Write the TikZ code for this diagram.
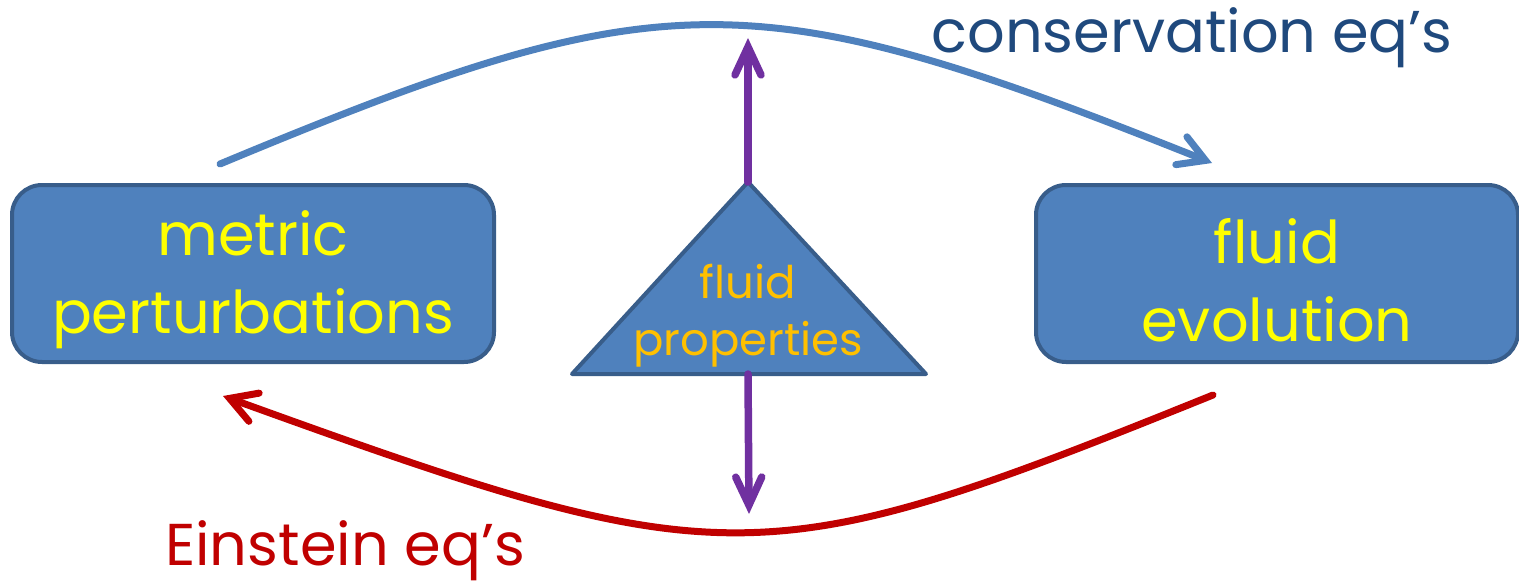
\documentclass[tikz,border=0pt]{standalone}
\usepackage{fontspec}
\setmainfont{Poppins}
\usetikzlibrary{arrows.meta}
\definecolor{boxfill}{HTML}{4F81BD}
\definecolor{boxline}{HTML}{385D8A}
\definecolor{boxtext}{HTML}{FFFF00}
\definecolor{tritext}{HTML}{FFC000}
\definecolor{flowblue}{HTML}{4F81BD}
\definecolor{flowred}{HTML}{C00000}
\definecolor{labelblue}{HTML}{1F497D}
\definecolor{propline}{HTML}{7030A0}
\tikzset{
  stagebox/.style={draw=boxline, line width=4pt, fill=boxfill, rounded corners=30pt,
    minimum width=482pt, minimum height=177pt, inner sep=0pt},
  stagetext/.style={align=center, inner sep=0pt, text=boxtext,
    font=\fontsize{59}{78}\selectfont},
  tritextstyle/.style={text=tritext, align=center, inner sep=0pt, font=\fontsize{45}{57}\selectfont},
  flow/.style={line width=7pt, line cap=round,
    -{Straight Barb[length=26pt, width=30pt, line width=7pt, line cap=round]}},
  prop/.style={draw=propline, line width=7.5pt, line cap=round,
    -{Straight Barb[length=28pt, width=26pt, line width=7.5pt, line cap=round]}},
  eqlabel/.style={inner sep=0pt, font=\fontsize{59}{60}\selectfont},
}
\begin{document}
\begin{tikzpicture}[x=1pt, y=-1pt]
\path[use as bounding box] (0,0) rectangle (1519,586);

% the two stages
\node[stagebox] (metric) at (253,273.5) {};
\node[stagetext] (metrictext) at (253,280) {metric\\perturbations};
\node[stagebox] (fluid) at (1277,273.5) {};
\node[stagetext] (fluidtext) at (1277,280) {fluid\\evolution};

% triangle of fluid properties
\coordinate (apex) at (748,182);
\coordinate (baseL) at (572,374);
\coordinate (baseR) at (926,374);
\coordinate (baseM) at (748,374);
\draw[draw=boxline, line width=4pt, fill=boxfill, line join=round]
  (apex) -- (baseR) -- (baseL) -- cycle;
\node[tritextstyle] (props) at (748,316) {fluid\\properties};

% property arrows
\coordinate (upTip) at (748,38);
\coordinate (downTip) at (749,514);
\draw[prop] (apex) -- (upTip);
\draw[prop] (baseM) -- (downTip);

% conservation and Einstein loops
\coordinate (consStart) at (220,164);
\coordinate (consEnd) at (1212,163);
\coordinate (einStart) at (1213,395);
\coordinate (einEnd) at (223,396);
\draw[flow, draw=flowblue] (consStart) .. controls (664,-21) and (752,-21) .. (consEnd);
\draw[flow, draw=flowred] (einStart) .. controls (760,578) and (726,578) .. (einEnd);

\node[eqlabel, text=labelblue] (conslabel) at (1192,38) {conservation eq’s};
\node[eqlabel, text=flowred] (einlabel) at (345,551) {Einstein eq’s};
\end{tikzpicture}
\end{document}
